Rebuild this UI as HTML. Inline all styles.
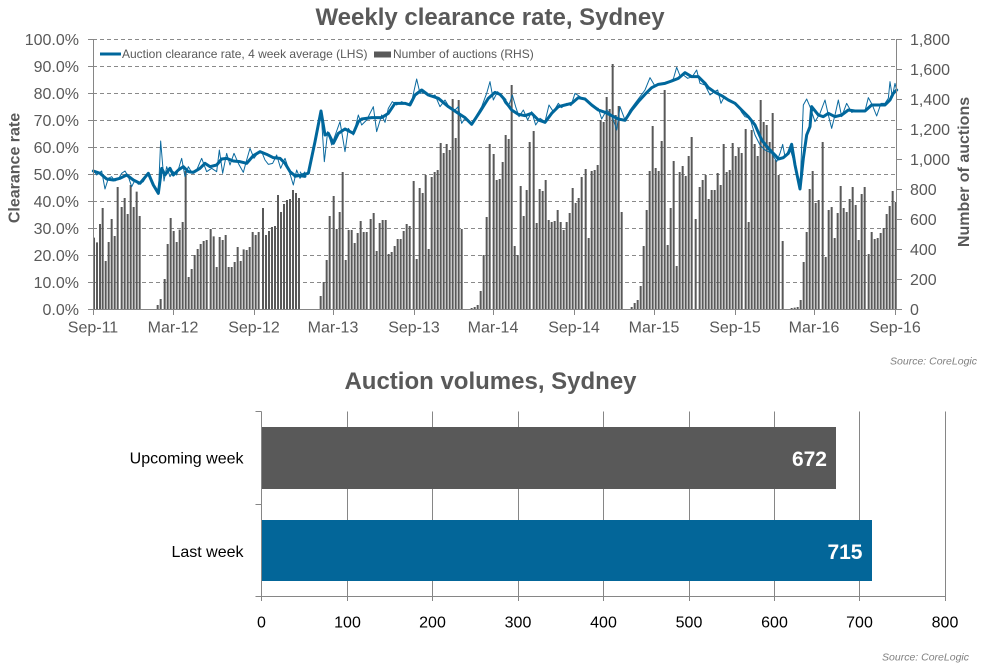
<!DOCTYPE html>
<html><head><meta charset="utf-8"><style>
html,body{margin:0;padding:0;background:#fff;}
svg{display:block;font-family:"Liberation Sans",Arial,sans-serif;}
</style></head><body>
<svg width="987" height="668" viewBox="0 0 987 668" xmlns="http://www.w3.org/2000/svg">
<rect width="987" height="668" fill="#fff"/>
<!-- Title 1 -->
<text x="490" y="25" text-anchor="middle" font-size="24" font-weight="bold" fill="#595959">Weekly clearance rate, Sydney</text>
<!-- gridlines -->
<g stroke="#8a8a8a" stroke-width="1" stroke-dasharray="4 3">
<line x1="93" y1="39.5" x2="897" y2="39.5"/>
<line x1="93" y1="66.5" x2="897" y2="66.5"/>
<line x1="93" y1="93.5" x2="897" y2="93.5"/>
<line x1="93" y1="120.5" x2="897" y2="120.5"/>
<line x1="93" y1="147.5" x2="897" y2="147.5"/>
<line x1="93" y1="174.5" x2="897" y2="174.5"/>
<line x1="93" y1="201.5" x2="897" y2="201.5"/>
<line x1="93" y1="228.5" x2="897" y2="228.5"/>
<line x1="93" y1="255.5" x2="897" y2="255.5"/>
<line x1="93" y1="282.5" x2="897" y2="282.5"/>
</g>
<!-- bars -->
<g fill="none" stroke="#595959" stroke-width="6">
<path transform="translate(90,35) scale(0.33333)" d="M12 822V608M21 822V622M30 822V567M38 822V519M47 822V678M56 822V621M65 822V552M74 822V603M83 822V456M95 822V516M104 822V489M113 822V537M122 822V450M131 822V516M140 822V470M149 822V543M203 822V810M212 822V792M224 822V732M233 822V627M242 822V549M251 822V588M260 822V621M269 822V584M278 822V561M287 822V408M296 822V726M305 822V702M314 822V660M323 822V642M332 822V627M341 822V618M350 822V615M362 822V582M371 822V604M380 822V696M389 822V606M398 822V615M407 822V600M416 822V696M425 822V696M434 822V681M443 822V636M452 822V678M461 822V643M470 822V645M479 822V636M488 822V591M497 822V600M506 822V591M519 822V519M528 822V600M537 822V588M546 822V576M555 822V573M564 822V480M573 822V531M582 822V507M591 822V495M600 822V492M609 822V465M618 822V474M627 822V489"/>
<path transform="translate(295,35) scale(0.33333)" d="M77 822V783M86 822V741M95 822V675M104 822V543M116 822V483M125 822V582M134 822V531M143 822V411M152 822V675M161 822V585M170 822V585M179 822V624M188 822V594M197 822V558M206 822V591M215 822V591M227 822V552M236 822V534M245 822V648M254 822V564M263 822V555M272 822V555M281 822V657M290 822V651M299 822V633M308 822V612M317 822V612M326 822V588M335 822V567M344 822V573M356 822V438M365 822V672M374 822V459M383 822V474M392 822V420M401 822V642M410 822V426M419 822V411M428 822V405M437 822V324M446 822V354M455 822V327M464 822V345M473 822V192M482 822V309M491 822V195M500 822V582M530 822V819M539 822V816M548 822V810M557 822V768M566 822V660M575 822V546M584 822V327M596 822V357M605 822V435M614 822V432M623 822V381"/>
<path transform="translate(495,35) scale(0.33333)" d="M32 822V300M41 822V312M50 822V150M59 822V633M68 822V660M77 822V453M86 822V543M95 822V465M104 822V321M116 822V288M125 822V564M134 822V462M143 822V468M152 822V435M161 822V555M170 822V561M179 822V558M188 822V525M197 822V561M206 822V585M215 822V561M224 822V534M233 822V459M242 822V504M251 822V489M260 822V426M272 822V402M281 822V609M290 822V408M299 822V405M308 822V390M317 822V255M326 822V261M335 822V186M344 822V222M353 822V87M362 822V240M371 822V213M380 822V531M410 822V816M419 822V804M428 822V795M437 822V753M446 822V633M455 822V525M464 822V408M473 822V273M482 822V399M491 822V408M500 822V318M509 822V165M518 822V630M527 822V519M536 822V378M545 822V693M554 822V411M563 822V393M572 822V423M581 822V363M590 822V306M602 822V552"/>
<path transform="translate(695,35) scale(0.33333)" d="M14 822V456M23 822V435M32 822V420M41 822V492M50 822V465M59 822V465M68 822V414M77 822V450M86 822V327M95 822V411M104 822V405M113 822V324M122 822V363M131 822V339M140 822V354M152 822V282M161 822V561M170 822V285M179 822V327M188 822V363M197 822V195M206 822V261M215 822V270M224 822V321M233 822V234M242 822V375M251 822V420M263 822V618M290 822V819M299 822V818M308 822V816M317 822V795M326 822V681M335 822V591M344 822V462M353 822V408M362 822V504M371 822V495M383 822V321M392 822V666M401 822V525M410 822V516M419 822V609M428 822V534M437 822V453M446 822V519M455 822V531M464 822V492M473 822V456M482 822V510M491 822V615M500 822V477M509 822V456M521 822V657M530 822V591M539 822V612M548 822V609M557 822V594M566 822V579M575 822V537M584 822V513M593 822V468M602 822V501"/>
</g>
<!-- thin weekly line -->
<g fill="none" stroke="#0b6a9f" stroke-width="1" stroke-linejoin="round">
<polyline vector-effect="non-scaling-stroke" transform="translate(90,35) scale(0.33333)" points="10,405 20,420 35,408 45,462 55,430 65,425 75,438 85,432 95,415 105,408 115,425 125,455 135,435 145,448 160,440 175,415 190,450 205,478 212,318 222,438 230,395 240,425 250,410 260,420 275,370 285,425 295,395 305,412 320,405 335,370 350,410 365,400 380,410 388,345 398,415 410,355 420,390 432,355 445,385 460,412 470,375 480,340 492,370 505,352 515,350 525,375 535,388 548,385 560,360 572,400 585,370 595,400 610,450 620,405 630,430 645,410"/>
<polyline vector-effect="non-scaling-stroke" transform="translate(295,35) scale(0.33333)" points="15,410 25,425 40,412 55,350 78,228 88,380 98,290 110,330 125,288 135,260 150,350 160,280 175,300 190,240 200,270 215,255 235,215 245,290 260,240 270,262 280,220 292,200 305,210 320,200 340,210 352,190 365,132 375,175 390,172 405,185 420,180 435,215 450,195 465,220 480,225 490,215 500,265 510,250 530,268 545,240 560,215 575,175 585,140 595,195 608,170 620,185 630,205"/>
<polyline vector-effect="non-scaling-stroke" transform="translate(495,35) scale(0.33333)" points="30,205 40,215 52,180 62,215 72,245 85,225 98,255 110,230 122,270 135,250 150,260 162,210 175,230 190,205 200,218 215,205 228,212 240,175 255,185 270,195 282,205 295,215 310,220 320,252 335,225 350,240 365,285 375,215 390,255 405,225 420,205 435,185 450,165 465,128 478,150 492,150 505,145 520,140 535,132 545,97 555,122 565,120 578,130 592,125 605,105 615,145 630,150"/>
<polyline vector-effect="non-scaling-stroke" transform="translate(695,35) scale(0.33333)" points="30,150 45,180 55,172 68,165 78,205 88,185 100,198 115,200 128,210 140,232 150,245 165,250 180,300 195,330 210,345 230,355 245,380 255,355 263,328 270,365 285,340 300,390 315,462 325,210 335,192 345,215 360,260 375,235 390,195 400,240 410,280 420,240 430,195 440,245 455,205 470,232 485,228 500,228 510,228 520,188 532,210 545,243 558,205 570,205 580,190 585,140 592,185 600,145 605,165"/>
</g>
<!-- thick 4-week avg line -->
<g fill="none" stroke="#00679c" stroke-width="3" stroke-linejoin="round" stroke-linecap="round">
<polyline vector-effect="non-scaling-stroke" transform="translate(90,35) scale(0.33333)" points="10,408 30,415 50,432 70,435 90,430 110,420 130,435 150,445 175,415 190,450 205,475 215,400 225,420 240,400 250,420 265,405 280,395 295,410 310,412 330,400 345,385 360,395 380,390 395,372 410,370 430,378 450,380 470,385 490,362 510,350 530,358 550,368 570,370 585,385 600,410 615,422 630,422 645,424"/>
<polyline vector-effect="non-scaling-stroke" transform="translate(295,35) scale(0.33333)" points="0,424 20,420 40,415 60,320 78,228 90,300 100,295 115,325 130,295 150,282 175,295 190,260 200,252 230,248 260,248 280,235 300,205 330,205 345,210 360,180 380,165 400,180 430,190 460,215 490,235 510,248 530,268 555,230 580,190 600,172 615,178 630,195"/>
<polyline vector-effect="non-scaling-stroke" transform="translate(495,35) scale(0.33333)" points="30,198 50,225 70,238 90,242 110,235 130,255 150,262 170,235 190,215 210,210 230,205 250,188 270,192 290,210 310,225 330,232 350,242 370,252 390,256 410,225 430,200 450,178 470,158 490,148 510,145 530,138 550,130 570,113 590,125 610,125 630,145"/>
<polyline vector-effect="non-scaling-stroke" transform="translate(695,35) scale(0.33333)" points="30,145 40,158 60,172 80,182 100,195 120,205 140,225 160,245 180,270 200,315 220,340 240,360 250,372 265,368 280,355 290,328 300,390 315,462 325,370 335,300 345,275 350,215 370,240 385,245 400,235 420,245 440,240 460,225 480,228 510,228 530,210 550,210 570,210 585,195 595,175 605,165"/>
</g>
<!-- axes -->
<g stroke="#868686" stroke-width="1" fill="none">
<line x1="93.5" y1="39" x2="93.5" y2="309"/>
<line x1="896.5" y1="39" x2="896.5" y2="309"/>
<line x1="93" y1="309.5" x2="897" y2="309.5"/>
<path d="M88 39.5H93M88 66.5H93M88 93.5H93M88 120.5H93M88 147.5H93M88 174.5H93M88 201.5H93M88 228.5H93M88 255.5H93M88 282.5H93M88 309.5H93"/>
<path d="M897 39.5H902M897 69.5H902M897 99.5H902M897 129.5H902M897 159.5H902M897 189.5H902M897 219.5H902M897 249.5H902M897 279.5H902M897 309.5H902"/>
<path d="M93.5 309V315M173.5 309V315M254.5 309V315M333.5 309V315M414.5 309V315M493.5 309V315M574.5 309V315M654.5 309V315M735.5 309V315M814.5 309V315M895.5 309V315"/>
</g>
<!-- left labels -->
<g font-size="16" fill="#595959" text-anchor="end">
<text x="79" y="45">100.0%</text>
<text x="79" y="72">90.0%</text>
<text x="79" y="99">80.0%</text>
<text x="79" y="126">70.0%</text>
<text x="79" y="153">60.0%</text>
<text x="79" y="180">50.0%</text>
<text x="79" y="207">40.0%</text>
<text x="79" y="234">30.0%</text>
<text x="79" y="261">20.0%</text>
<text x="79" y="288">10.0%</text>
<text x="79" y="315">0.0%</text>
</g>
<!-- right labels -->
<g font-size="16" fill="#595959" text-anchor="start">
<text x="910" y="45">1,800</text>
<text x="910" y="75">1,600</text>
<text x="910" y="105">1,400</text>
<text x="910" y="135">1,200</text>
<text x="910" y="165">1,000</text>
<text x="910" y="195">800</text>
<text x="910" y="225">600</text>
<text x="910" y="255">400</text>
<text x="910" y="285">200</text>
<text x="910" y="315">0</text>
</g>
<!-- x labels -->
<g font-size="16" fill="#595959" text-anchor="middle">
<text x="93" y="332.5">Sep-11</text>
<text x="173" y="332.5">Mar-12</text>
<text x="254" y="332.5">Sep-12</text>
<text x="333" y="332.5">Mar-13</text>
<text x="414" y="332.5">Sep-13</text>
<text x="493" y="332.5">Mar-14</text>
<text x="574" y="332.5">Sep-14</text>
<text x="654" y="332.5">Mar-15</text>
<text x="735" y="332.5">Sep-15</text>
<text x="814" y="332.5">Mar-16</text>
<text x="895" y="332.5">Sep-16</text>
</g>
<!-- axis titles -->
<text transform="translate(19.5,168) rotate(-90)" text-anchor="middle" font-size="16" font-weight="bold" fill="#595959">Clearance rate</text>
<text transform="translate(969,172) rotate(-90)" text-anchor="middle" font-size="16" font-weight="bold" fill="#595959">Number of auctions</text>
<!-- legend -->
<line x1="100" y1="54" x2="121" y2="54" stroke="#00679c" stroke-width="3"/>
<text x="122" y="58" font-size="12" fill="#595959">Auction clearance rate, 4 week average (LHS)</text>
<rect x="374" y="51.5" width="17" height="6" fill="#595959"/>
<text x="393" y="58" font-size="12" fill="#595959">Number of auctions (RHS)</text>
<!-- source 1 -->
<text x="977" y="364.5" text-anchor="end" font-size="10.5" font-style="italic" fill="#7f7f7f">Source: CoreLogic</text>

<!-- Bottom chart -->
<text x="490.5" y="389" text-anchor="middle" font-size="24" font-weight="bold" fill="#595959">Auction volumes, Sydney</text>
<g stroke="#868686" stroke-width="1" fill="none">
<path d="M347.5 411.5V601M432.5 411.5V601M518.5 411.5V601M603.5 411.5V601M689.5 411.5V601M774.5 411.5V601M859.5 411.5V601M945.5 411.5V601"/>
</g>
<rect x="261" y="427" width="575" height="62" fill="#595959"/>
<rect x="261" y="520" width="611" height="61" fill="#036699"/>
<g stroke="#868686" stroke-width="1" fill="none">
<line x1="261.5" y1="411.5" x2="261.5" y2="601"/>
<line x1="255.5" y1="596.5" x2="946" y2="596.5"/>
<path d="M255.5 411.5H261.5M255.5 504.5H261.5"/>
</g>
<text x="827" y="466" text-anchor="end" font-size="21" font-weight="bold" fill="#fff">672</text>
<text x="862.5" y="559" text-anchor="end" font-size="21" font-weight="bold" fill="#fff">715</text>
<g font-size="16" fill="#000" text-anchor="end">
<text x="243.5" y="463.5">Upcoming week</text>
<text x="243.5" y="557">Last week</text>
</g>
<g font-size="16" fill="#000" text-anchor="middle">
<text x="261.5" y="627.5">0</text>
<text x="347.5" y="627.5">100</text>
<text x="432.5" y="627.5">200</text>
<text x="518" y="627.5">300</text>
<text x="603.5" y="627.5">400</text>
<text x="689" y="627.5">500</text>
<text x="774.5" y="627.5">600</text>
<text x="859.5" y="627.5">700</text>
<text x="945" y="627.5">800</text>
</g>
<text x="969" y="660.5" text-anchor="end" font-size="10.5" font-style="italic" fill="#7f7f7f">Source: CoreLogic</text>
</svg>
</body></html>
